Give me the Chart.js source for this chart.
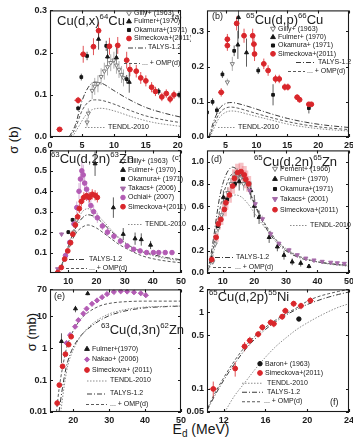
<!DOCTYPE html>
<html>
<head>
<meta charset="utf-8">
<script src="https://cdn.jsdelivr.net/npm/chart.js@4.4.1/dist/chart.umd.min.js"></script>
<style>
  body { margin: 0; background: #fff; }
  #fig { position: relative; width: 353px; height: 441px; overflow: hidden;
         font-family: "Liberation Sans", Arial, sans-serif; color: #161616; }
  #fig canvas { position: absolute; }
  .ax { position: absolute; white-space: nowrap; font-size: 13px; }
  .rot { transform: translate(-50%, -50%) rotate(-90deg); }
</style>
</head>
<body>
<div id="fig">
  <div class="ax rot" style="left:13px;top:140px">σ (b)</div>
  <div class="ax rot" style="left:31px;top:332px">σ (mb)</div>
  <div class="ax" style="left:201px;top:430px;transform:translate(-50%,-50%);font-size:14px">E<sub style="font-size:10px">d</sub> (MeV)</div>
</div>
<script>
// rows are [E (MeV), sigma, d_sigma, d_E]

// (a) Cu(d,x)64Cu, sigma in b
const aGilly = [[5.8,0.035,0.01],[6.0,0.056,0.012],[6.6,0.11,0.02],[7.0,0.12,0.02],[7.5,0.126,0.02],[8.0,0.143,0.02],[8.5,0.156,0.02],[9.0,0.166,0.02],[9.5,0.176,0.02],[10.0,0.182,0.02],[10.4,0.17,0.02],[10.8,0.16,0.02],[11.2,0.148,0.02],[11.5,0.14,0.02]];
const aFulmer = [[7.6,0.232,0.025],[9.0,0.19,0.025],[10.4,0.188,0.025],[12.4,0.13,0.025]];
const aOkamura = [[4.4,0.068,0.006],[4.9,0.142,0.008],[5.8,0.192,0.01],[8.8,0.216,0.012],[12.0,0.137,0.01],[17.0,0.108,0.008],[20.2,0.1,0.008]];
const aSimeckova = [[1.5,0.018,0.003,0.5],[4.4,0.087,0.008,0.6],[5.2,0.196,0.02,0.5],[6.8,0.214,0.02,0.4],[7.6,0.252,0.02,0.4],[9.3,0.215,0.02,0.4],[10.6,0.217,0.02,0.4],[12.0,0.182,0.02,0.4],[12.5,0.16,0.016,0.4],[13.5,0.156,0.015,0.3],[14.2,0.14,0.014,0.3],[15.0,0.133,0.013,0.3],[15.9,0.118,0.012,0.3],[16.5,0.108,0.011,0.3],[17.5,0.095,0.01,0.3],[18.2,0.103,0.01,0.3],[18.8,0.09,0.01,0.3],[19.4,0.1,0.01,0.3]];
const aTalys = [[3,0],[4,0.03],[5,0.085],[6,0.118],[7,0.13],[8,0.128],[10,0.11],[12,0.092],[15,0.07],[18,0.056],[20.5,0.047]];
const aOmp = [[3.2,0],[4,0.022],[5,0.062],[6,0.083],[7,0.088],[8,0.087],[10,0.078],[12,0.066],[15,0.05],[18,0.04],[20.5,0.034]];
const aTendl = [[3.5,0],[4.5,0.025],[5.5,0.05],[6.5,0.064],[8,0.068],[10,0.062],[13,0.047],[16,0.035],[20.5,0.025]];
const aXTicks = [0, 5, 10, 15, 20];
const aYTicks = [0, 0.1, 0.2, 0.3];

// (b) 65Cu(d,p)66Cu
const bGilly = [[5.3,0.156,0.01],[6.1,0.208,0.02]];
const bFulmer = [[7.0,0.262,0.04],[7.1,0.34,0.06],[8.4,0.24,0.04]];
const bOkamura = [[2.0,0.07,0.01],[2.9,0.1,0.01],[3.6,0.076,0.01],[4.5,0.178,0.01],[6.4,0.245,0.015],[10.3,0.189,0.01],[12.7,0.12,0.03],[18.5,0.082,0.015]];
const bSimeckova = [[4.3,0.127,0.012,0.5],[5.3,0.278,0.015,0.4],[5.3,0.26,0.015,0.4],[6.8,0.323,0.02,0.4],[8.0,0.288,0.02,0.4],[9.4,0.288,0.02,0.4],[9.6,0.264,0.02,0.4],[9.7,0.236,0.02,0.4],[11.2,0.208,0.015,0.4],[11.9,0.189,0.015,0.4],[13.1,0.165,0.012,0.4],[13.7,0.165,0.012,0.4],[14.6,0.142,0.01,0.4],[15.1,0.142,0.01,0.4],[16.6,0.113,0.008,0.4],[17.0,0.106,0.008,0.4],[18.5,0.093,0.006,0.4],[18.9,0.093,0.006,0.4]];
const bTalys = [[2.3,0],[3,0.04],[4,0.08],[5,0.095],[6,0.098],[7,0.095],[9,0.085],[12,0.068],[15,0.053],[18,0.042],[21,0.034],[25,0.027]];
const bOmp = [[2.4,0],[3,0.03],[4,0.067],[5,0.082],[6,0.085],[7,0.082],[9,0.072],[12,0.057],[15,0.044],[18,0.034],[21,0.027],[25,0.021]];
const bTendl = [[2.5,0],[3,0.02],[4,0.055],[5,0.07],[6,0.074],[7,0.072],[9,0.063],[12,0.05],[15,0.037],[18,0.028],[21,0.022],[25,0.017]];
const bXTicks = [5, 10, 15, 20, 25];
const bYTicks = [0, 0.1, 0.2, 0.3];

// (c) 63Cu(d,2n)63Zn
const cGilly = [[10.5,0.14,0.01],[12.0,0.2,0.015],[13.0,0.26,0.02]];
const cFulmer = [[19.5,0.535,0.06],[26.0,0.32,0.05],[29.5,0.19,0.03],[33.7,0.168,0.03],[35.9,0.164,0.03],[39.2,0.137,0.02]];
const cOkamura = [[10.0,0.2,0.01],[11.5,0.26,0.01]];
const cTakacs = [[6.2,0.02,0.005],[7.6,0.19,0.01]];
const cOchiai = [[9.0,0.085,0.01],[10.5,0.15,0.015],[12.0,0.24,0.02],[13.0,0.32,0.03],[13.8,0.4,0.04],[14.3,0.46,0.05],[14.8,0.5,0.05],[15.3,0.48,0.05],[15.8,0.44,0.04],[16.5,0.41,0.04],[17.2,0.37,0.03],[18.0,0.33,0.03],[19.0,0.3,0.03],[20.3,0.27,0.025],[22.1,0.23,0.02],[23.9,0.2,0.02],[26.2,0.18,0.018],[28.5,0.156,0.016],[30.9,0.132,0.014],[33.2,0.116,0.012],[35.5,0.108,0.01],[37.8,0.1,0.01],[40.2,0.1,0.01],[42.1,0.1,0.01],[44.4,0.1,0.01],[46.8,0.1,0.01]];
const cSimeckova = [[6.3,0.003,0.002,0.4],[7.5,0.027,0.004,0.4],[8.7,0.068,0.006,0.4],[9.8,0.108,0.01,0.4],[10.8,0.148,0.012,0.4],[11.6,0.19,0.015,0.4],[12.5,0.235,0.018,0.4],[13.3,0.275,0.02,0.4],[13.9,0.315,0.022,0.4],[14.6,0.35,0.025,0.4],[15.5,0.37,0.025,0.4],[16.5,0.378,0.025,0.4],[17.5,0.37,0.025,0.4],[18.5,0.385,0.025,0.4],[19.5,0.38,0.025,0.4],[20.3,0.37,0.025,0.4]];
const cTendl = [[5,0],[7,0.02],[9,0.09],[11,0.17],[13,0.25],[15,0.3],[17,0.315],[19,0.3],[22,0.26],[26,0.2],[30,0.15],[35,0.11],[40,0.085],[45,0.07],[50,0.06]];
const cTalys = [[5,0],[7,0.02],[9,0.09],[11,0.17],[13,0.23],[15,0.27],[17,0.285],[20,0.27],[24,0.22],[28,0.17],[32,0.13],[36,0.105],[40,0.09],[45,0.075],[50,0.065]];
const cOmp = [[5,0],[7,0.02],[9,0.08],[11,0.15],[13,0.2],[15,0.225],[17,0.235],[20,0.22],[24,0.18],[28,0.14],[32,0.11],[36,0.085],[40,0.07],[45,0.058],[50,0.05]];
const cXTicks = [10, 20, 30, 40, 50];
const cYTicks = [0.1, 0.2, 0.3, 0.4, 0.5, 0.6];

// (d) 65Cu(d,2n)65Zn
const dPement = [[6.8,0.1,0.02],[7.6,0.26,0.03],[8.5,0.4,0.03],[9.6,0.52,0.04],[10.6,0.63,0.04],[11.6,0.72,0.05],[12.6,0.8,0.05],[13.6,0.86,0.06],[14.6,0.88,0.06],[15.6,0.85,0.06],[16.6,0.8,0.06]];
const dFulmer = [[6.5,0.13,0.04],[10.2,0.68,0.06],[15.2,0.82,0.08],[18.9,0.74,0.08],[20.0,0.6,0.1],[21.5,0.5,0.06],[24.7,0.32,0.05],[27.3,0.235,0.04],[29.4,0.16,0.04],[32.0,0.1,0.03],[34.7,0.088,0.03],[37.3,0.06,0.02]];
const dOkamura = [[8.4,0.42,0.02],[11.4,0.66,0.03],[13.9,0.8,0.03]];
const dTakacs = [[18.5,0.74,0.04],[20.3,0.62,0.04],[22.6,0.485,0.03],[25.2,0.35,0.03],[27.8,0.265,0.02],[31.0,0.206,0.02],[33.6,0.162,0.015],[36.3,0.132,0.012],[38.9,0.115,0.01],[41.5,0.103,0.01],[44.2,0.095,0.01],[46.3,0.09,0.01],[48.5,0.085,0.01]];
const dSimeckova = [[6.5,0.12,0.03,0.4],[7.9,0.32,0.04,0.4],[8.6,0.44,0.05,0.4],[9.4,0.48,0.05,0.4],[10.5,0.57,0.06,0.4],[11.0,0.63,0.06,0.4],[12.1,0.7,0.07,0.4],[13.1,0.78,0.07,0.4],[13.7,0.85,0.08,0.4],[14.7,0.9,0.08,0.4],[15.8,0.91,0.08,0.4],[16.8,0.88,0.08,0.4],[17.3,0.84,0.08,0.4],[18.2,0.8,0.07,0.4]];
const dTalys = [[5,0],[6,0.12],[7,0.3],[8,0.5],[9,0.68],[10,0.8],[11,0.88],[12,0.93],[13,0.95],[14,0.94],[16,0.88],[18,0.76],[20,0.62],[23,0.44],[26,0.31],[30,0.2],[35,0.13],[40,0.1],[45,0.08],[50,0.07]];
const dOmp = [[5,0],[6,0.08],[7,0.22],[8,0.4],[9,0.56],[10,0.69],[11,0.78],[12,0.85],[13,0.89],[14,0.9],[16,0.86],[18,0.76],[20,0.63],[23,0.46],[26,0.33],[30,0.21],[35,0.14],[40,0.1],[45,0.08],[50,0.065]];
const dTendl = [[5,0],[6,0.06],[7,0.17],[8,0.3],[9,0.43],[10,0.53],[11,0.61],[12,0.66],[13,0.69],[14,0.7],[16,0.68],[18,0.62],[20,0.54],[23,0.42],[26,0.32],[30,0.22],[35,0.14],[40,0.1],[45,0.075],[50,0.06]];
const dXTicks = [10, 20, 30, 40, 50];
const dYTicks = [0, 0.2, 0.4, 0.6, 0.8, 1.0];

// (e) 63Cu(d,3n)62Zn, sigma in mb
const eFulmer = [[16.7,1.64,1.3],[20.6,17.4,4],[24.0,52,6]];
const eNakao = [[18.1,1.46],[19.1,2.6],[20.5,4.75],[21.4,7.6],[22.8,12.2],[23.7,17.4],[25.2,24.7],[26.6,31.5],[28.0,40],[29.4,50],[31.3,58],[33.2,61],[35.0,60],[36.9,57],[38.8,53],[40.2,46]];
const eSimeckova = [[15.5,0.019,0.004,0.3],[16.1,0.07,0.012,0.3],[17.0,0.27,0.04,0.3],[17.8,0.65,0.08,0.3],[18.7,1.3,0.15,0.3],[19.4,2.3,0.25,0.3]];
const eTendl = [[16.5,0.01],[17.5,0.07],[18.5,0.3],[20,0.9],[22,2.3],[24,4.3],[27,8],[30,12],[33,15],[36,17.5],[40,19.5],[45,20.5],[50,21]];
const eTalys = [[16,0.01],[17,0.06],[18,0.25],[19,0.6],[20,1.1],[22,2.4],[24,4],[27,7],[30,10.5],[33,13.5],[36,16],[40,18.5],[45,20],[50,21]];
const eOmp = [[15.3,0.01],[16,0.05],[17,0.25],[18,0.9],[19,2],[20,3.6],[22,8],[24,13],[26,18],[28,22.5],[31,26.5],[35,29],[40,30],[45,30],[50,30]];
const eXTicks = [20, 30, 40, 50];
const eYTicks = [0.01, 0.1, 1, 10, 70];

// (f) 65Cu(d,2p)55Ni, sigma in mb
const fBaron = [[19.2,0.82]];
const fSimeckova = [[11.0,0.1,0.025,0.4],[13.1,0.185,0.04,0.25],[14.0,0.36,0.05,0.3],[14.5,0.43,0.05,0.3],[15.3,0.52,0.05,0.3],[15.7,0.64,0.06,0.3],[16.5,0.74,0.07,0.3],[16.8,0.71,0.07,0.3],[17.6,0.88,0.08,0.3],[17.9,1.05,0.1,0.3],[18.7,1.3,0.12,0.3],[19.4,1.22,0.12,0.3],[20.3,1.43,0.14,0.3]];
const fTendl = [[12.1,0.05],[13,0.08],[14,0.12],[15,0.18],[16,0.26],[17,0.36],[18,0.47],[19,0.6],[20,0.73],[21,0.87],[22,1.02],[23,1.17],[24,1.3]];
const fTalys = [[10.4,0.052],[11,0.075],[12,0.13],[13,0.21],[14,0.32],[15,0.45],[16,0.6],[17,0.76],[18,0.93],[19,1.1],[20,1.27],[21,1.43],[22,1.58],[23,1.72],[24,1.85]];
const fOmp = [[10.3,0.05],[11,0.08],[12,0.14],[13,0.23],[14,0.35],[15,0.49],[16,0.64],[17,0.8],[18,0.97],[19,1.15],[20,1.4],[21,1.6],[22,1.75],[23,1.88],[24,2.0]];
const fXTicks = [12, 16, 20, 24];
const fYTicks = [0.05, 0.1, 0.5, 1, 2];

const FONT = '"Liberation Sans", Arial, sans-serif';
const INK = '#161616', RED = '#d9262b', PURPLE = '#b35cb4', GREY = '#7c7c7c';
Chart.defaults.font.family = FONT;

// marker looks shared by the panels
const sGilly = {pointStyle: 'triangle', pointRotation: 180, pointRadius: 2.4, pointBackgroundColor: '#fff', pointBorderColor: GREY, errColor: '#9a9a9a'};
const sFulmer = {pointStyle: 'triangle', pointRadius: 2.3, pointBackgroundColor: INK, pointBorderColor: INK, errColor: '#333'};
const sOkamura = {pointStyle: 'rect', pointRadius: 1.9, pointBackgroundColor: INK, pointBorderColor: INK, errColor: '#333'};
const sSimeckova = {pointStyle: 'circle', pointRadius: 2.4, pointBackgroundColor: RED, pointBorderColor: RED, errColor: RED};
const sOchiai = {pointStyle: 'circle', pointRadius: 2.3, pointBackgroundColor: PURPLE, pointBorderColor: PURPLE, errColor: '#c99bcb'};
const sTakacs = {pointStyle: 'triangle', pointRotation: 180, pointRadius: 2.4, pointBackgroundColor: '#a56aa8', pointBorderColor: '#a56aa8', errColor: '#c5a0c8'};
const sNakao = {pointStyle: 'rectRot', pointRadius: 2.6, pointBackgroundColor: PURPLE, pointBorderColor: PURPLE, errColor: '#c99bcb'};
const sBaron = {pointStyle: 'circle', pointRadius: 2.2, pointBackgroundColor: INK, pointBorderColor: INK};

const TENDL = {dash: [1.5, 1.5], color: '#8d8d8d'};
const TALYS = {dash: [5, 2, 1, 2], color: '#3a3a3a'};
const OMP = {dash: [3, 2], color: '#5a5a5a'};

function marks(label, rows, style, key) {
  return Object.assign({
    label, key,
    data: rows.map(r => ({x: r[0], y: r[1], ey: r[2] || 0, ex: r[3] || 0})),
    pointBorderWidth: 1, errWidth: 0.8
  }, style);
}

function curve(label, rows, look, key) {
  return {
    label, key,
    data: rows.map(r => ({x: r[0], y: r[1]})),
    showLine: true, pointRadius: 0, borderWidth: 1,
    borderColor: look.color, borderDash: look.dash,
    cubicInterpolationMode: 'monotone'
  };
}

function drawMark(ctx, ds, x, y) {
  const r = ds.pointRadius;
  ctx.save();
  ctx.translate(x, y);
  ctx.rotate((ds.pointRotation || 0) * Math.PI / 180);
  ctx.fillStyle = ds.pointBackgroundColor;
  ctx.strokeStyle = ds.pointBorderColor;
  ctx.lineWidth = 1;
  ctx.beginPath();
  if (ds.pointStyle === 'triangle') {
    ctx.moveTo(0, -r * 1.2); ctx.lineTo(r * 1.05, r * 0.6); ctx.lineTo(-r * 1.05, r * 0.6); ctx.closePath();
  } else if (ds.pointStyle === 'rect') {
    ctx.rect(-r * 0.8, -r * 0.8, r * 1.6, r * 1.6);
  } else if (ds.pointStyle === 'rectRot') {
    ctx.moveTo(0, -r); ctx.lineTo(r, 0); ctx.lineTo(0, r); ctx.lineTo(-r, 0); ctx.closePath();
  } else {
    ctx.arc(0, 0, r, 0, Math.PI * 2);
  }
  ctx.fill(); ctx.stroke();
  ctx.restore();
}

// error bars, frame, inward ticks, keys and reaction labels
const decor = {
  id: 'decor',
  beforeDatasetsDraw(chart) {
    const {ctx, chartArea: a, scales: {x, y}} = chart;
    ctx.save();
    ctx.beginPath(); ctx.rect(a.left, a.top, a.width, a.height); ctx.clip();
    chart.data.datasets.forEach(ds => {
      if (!ds.errColor) return;
      ctx.strokeStyle = ds.errColor; ctx.lineWidth = ds.errWidth;
      ds.data.forEach(p => {
        const px = x.getPixelForValue(p.x), py = y.getPixelForValue(p.y);
        ctx.beginPath();
        if (p.ey) {
          const lo = Math.max(p.y - p.ey, y.min * 0.5);
          ctx.moveTo(px, y.getPixelForValue(lo)); ctx.lineTo(px, y.getPixelForValue(p.y + p.ey));
        }
        if (p.ex) {
          ctx.moveTo(x.getPixelForValue(p.x - p.ex), py); ctx.lineTo(x.getPixelForValue(p.x + p.ex), py);
        }
        ctx.stroke();
      });
    });
    ctx.restore();
  },
  afterDraw(chart, args, o) {
    const {ctx, chartArea: a, scales: {x, y}} = chart;
    const X = v => v - o.ox, Y = v => v - o.oy;
    ctx.save();
    ctx.strokeStyle = '#1a1a1a'; ctx.lineWidth = 1.1;
    ctx.strokeRect(a.left + 0.5, a.top + 0.5, a.width - 1, a.height - 1);
    ctx.beginPath();
    x.ticks.forEach(t => {
      const px = Math.round(x.getPixelForValue(t.value)) + 0.5;
      ctx.moveTo(px, a.bottom); ctx.lineTo(px, a.bottom - 3);
      ctx.moveTo(px, a.top); ctx.lineTo(px, a.top + 3);
    });
    y.ticks.forEach(t => {
      const py = Math.round(y.getPixelForValue(t.value)) + 0.5;
      ctx.moveTo(a.left, py); ctx.lineTo(a.left + 3, py);
      ctx.moveTo(a.right, py); ctx.lineTo(a.right - 3, py);
    });
    ctx.stroke();

    ctx.fillStyle = '#202020';
    ctx.textBaseline = 'middle';
    ctx.font = '7px ' + FONT;
    chart.data.datasets.forEach(ds => {
      const k = ds.key;
      if (!k) return;
      if (k.seg) {
        ctx.save();
        ctx.strokeStyle = ds.borderColor; ctx.setLineDash(ds.borderDash);
        ctx.beginPath(); ctx.moveTo(X(k.seg[0]), Y(k.y) + 0.5); ctx.lineTo(X(k.seg[1]), Y(k.y) + 0.5); ctx.stroke();
        ctx.restore();
        ctx.fillText(ds.label, X(k.tx), Y(k.y));
      } else {
        drawMark(ctx, ds, X(k.x), Y(k.y));
        ctx.fillText(ds.label, X(k.x) + 5, Y(k.y));
      }
    });

    ctx.textBaseline = 'alphabetic';
    (o.texts || []).forEach(t => {
      let cx = X(t.x);
      t.parts.forEach(([s, sup]) => {
        const fs = sup ? t.size * 0.6 : t.size;
        ctx.font = fs + 'px ' + FONT;
        ctx.fillText(s, cx, Y(t.y) - (sup ? t.size * 0.45 : 0));
        cx += ctx.measureText(s).width;
      });
    });
    ctx.restore();
  }
};

function axis(spec) {
  return {
    type: spec.log ? 'logarithmic' : 'linear',
    min: spec.min, max: spec.max,
    grid: {display: false, drawTicks: false}, border: {display: false},
    afterBuildTicks: s => { s.ticks = spec.ticks.map(v => ({value: v})); },
    afterFit: s => { if (s.isHorizontal()) s.height = 14; else s.width = 30; },
    ticks: {
      autoSkip: false, maxRotation: 0, padding: 3, color: '#1c1c1c',
      font: {size: 9, weight: 'bold'},
      callback: spec.fmt
    }
  };
}

const fix1 = v => v.toFixed(1);
const plain = v => String(v);

function panel(box, xs, ys, sets, texts) {
  const cv = document.createElement('canvas');
  const left = box[0] - 30, top = box[1] - 6;
  cv.width = 30 + box[2] - box[0] + 10;
  cv.height = 6 + box[3] - box[1] + 14;
  cv.style.left = left + 'px';
  cv.style.top = top + 'px';
  document.getElementById('fig').appendChild(cv);
  return new Chart(cv, {
    type: 'scatter',
    data: {datasets: sets},
    options: {
      responsive: false, animation: false, devicePixelRatio: 1,
      layout: {padding: {top: 6, right: 10, left: 0, bottom: 0}},
      plugins: {legend: {display: false}, tooltip: {enabled: false},
                decor: {ox: left, oy: top, texts}},
      scales: {x: axis(xs), y: axis(ys)}
    },
    plugins: [decor]
  });
}

const sup = s => [s, true], txt = s => [s, false];

panel([50, 8, 181, 137],
  {min: 0, max: 20.5, ticks: aXTicks, fmt: plain},
  {min: 0, max: 0.3, ticks: aYTicks, fmt: fix1},
  [
    marks('Simeckova+(2011)', aSimeckova, sSimeckova, {x: 129, y: 38.5}),
    marks('Okamura+(1971)', aOkamura, sOkamura, {x: 129, y: 30}),
    marks('Fulmer+(1970)', aFulmer, sFulmer, {x: 129, y: 21.5}),
    marks('Gilly+ (1963)', aGilly, sGilly, {x: 129, y: 13}),
    curve('TALYS-1.2', aTalys, TALYS, {seg: [128, 146], y: 47.5, tx: 148}),
    curve('... + OMP(d)', aOmp, OMP, {seg: [124, 140], y: 63, tx: 142}),
    curve('TENDL-2010', aTendl, TENDL, {seg: [85, 106], y: 127, tx: 108})
  ],
  [{x: 57, y: 25, size: 13, parts: [txt('Cu(d,x)'), sup('64'), txt('Cu')]},
   {x: 172, y: 19, size: 8, parts: [txt('(a)')]}]);

panel([207, 8, 349, 137],
  {min: 2, max: 25, ticks: bXTicks, fmt: plain},
  {min: 0, max: 0.36, ticks: bYTicks, fmt: fix1},
  [
    marks('Simeckova+(2011)', bSimeckova, sSimeckova, {x: 273, y: 53.8}),
    marks('Okamura+ (1971)', bOkamura, sOkamura, {x: 273, y: 45.5}),
    marks('Fulmer+ (1970)', bFulmer, sFulmer, {x: 273, y: 37.2}),
    marks('Gilly+ (1963)', bGilly, sGilly, {x: 273, y: 28.7}),
    curve('TALYS-1.2', bTalys, TALYS, {seg: [296, 316], y: 62, tx: 318}),
    curve('... + OMP(d)', bOmp, OMP, {seg: [288, 305], y: 71, tx: 307}),
    curve('TENDL-2010', bTendl, TENDL, {seg: [218, 236], y: 127, tx: 238})
  ],
  [{x: 212, y: 19, size: 9, parts: [txt('(b)')]},
   {x: 246, y: 24, size: 13, parts: [sup('65'), txt('Cu(d,p)'), sup('66'), txt('Cu')]}]);

panel([50, 148, 181, 273],
  {min: 3.5, max: 50, ticks: cXTicks, fmt: plain},
  {min: 0, max: 0.6, ticks: cYTicks, fmt: fix1},
  [
    marks('Simeckova+(2011)', cSimeckova, sSimeckova, {x: 123, y: 206.7}),
    marks('Ochiai+ (2007)', cOchiai, sOchiai, {x: 123, y: 197.5}),
    marks('Takacs+ (2006)', cTakacs, sTakacs, {x: 123, y: 188.5}),
    marks('Okamura+ (1971)', cOkamura, sOkamura, {x: 123, y: 179}),
    marks('Fulmer+ (1970)', cFulmer, sFulmer, {x: 123, y: 170}),
    marks('Gilly+ (1963)', cGilly, sGilly, {x: 123, y: 161}),
    curve('TENDL-2010', cTendl, TENDL, {seg: [128, 143], y: 224, tx: 145}),
    curve('TALYS-1.2', cTalys, TALYS, {seg: [69, 86], y: 259, tx: 89}),
    curve('... + OMP(d)', cOmp, OMP, {seg: [66, 87], y: 268, tx: 89})
  ],
  [{x: 51, y: 163, size: 13, parts: [sup('63'), txt('Cu(d,2n)'), sup('63'), txt('Zn')]},
   {x: 172, y: 160, size: 8, parts: [txt('(c)')]}]);

panel([207, 148, 349, 273],
  {min: 5, max: 50, ticks: dXTicks, fmt: plain},
  {min: 0, max: 1.1, ticks: dYTicks, fmt: fix1},
  [
    marks('Simeckova+(2011)', dSimeckova, Object.assign({}, sSimeckova, {errColor: 'rgba(236,120,128,0.45)', errWidth: 5}), {x: 275, y: 209.7}),
    marks('Takacs+ (2001)', dTakacs, sTakacs, {x: 275, y: 199}),
    marks('Okamura+(1971)', dOkamura, sOkamura, {x: 275, y: 189}),
    marks('Fulmer+ (1970)', dFulmer, sFulmer, {x: 275, y: 179}),
    marks('Pement+ (1966)', dPement, sGilly, {x: 275, y: 168.7}),
    curve('TENDL-2010', dTendl, TENDL, {seg: [290, 308], y: 225, tx: 310}),
    curve('TALYS-1.2', dTalys, TALYS, {seg: [215, 234], y: 257, tx: 236}),
    curve('... + OMP(d)', dOmp, OMP, {seg: [213, 233], y: 267, tx: 235})
  ],
  [{x: 211, y: 162, size: 9, parts: [txt('(d)')]},
   {x: 254, y: 166, size: 13, parts: [sup('65'), txt('Cu(d,2n)'), sup('65'), txt('Zn')]}]);

panel([50, 287, 181, 412],
  {min: 13.5, max: 50, ticks: eXTicks, fmt: plain},
  {log: true, min: 0.01, max: 70, ticks: eYTicks, fmt: plain},
  [
    marks('Simeckova+ (2011)', eSimeckova, sSimeckova, {x: 87, y: 370}),
    marks('Nakao+ (2006)', eNakao, sNakao, {x: 87, y: 359.5}),
    marks('Fulmer+(1970)', eFulmer, sFulmer, {x: 87, y: 349}),
    curve('TENDL-2010', eTendl, TENDL, {seg: [87, 107], y: 380.5, tx: 110}),
    curve('TALYS-1.2', eTalys, TALYS, {seg: [87, 107], y: 393.5, tx: 110}),
    curve('... + OMP(d)', eOmp, OMP, {seg: [86, 107], y: 404, tx: 110})
  ],
  [{x: 54, y: 299, size: 9, parts: [txt('(e)')]},
   {x: 101, y: 334, size: 13, parts: [sup('63'), txt('Cu(d,3n)'), sup('62'), txt('Zn')]}]);

panel([207, 287, 349, 412],
  {min: 10.4, max: 24, ticks: fXTicks, fmt: plain},
  {log: true, min: 0.05, max: 2, ticks: fYTicks, fmt: plain},
  [
    marks('Simeckova+(2011)', fSimeckova, sSimeckova, {x: 260, y: 373}),
    marks('Baron+ (1963)', fBaron, sBaron, {x: 260, y: 363.7}),
    curve('TENDL-2010', fTendl, TENDL, {seg: [242, 263], y: 382.8, tx: 267}),
    curve('TALYS-1.2', fTalys, TALYS, {seg: [242, 263], y: 391.8, tx: 267}),
    curve('... + OMP(d)', fOmp, OMP, {seg: [242, 262], y: 401.3, tx: 264})
  ],
  [{x: 209, y: 301, size: 13, parts: [sup('65'), txt('Cu(d,2p)'), sup('55'), txt('Ni')]},
   {x: 330, y: 404.5, size: 9, parts: [txt('(f)')]}]);
</script>
</body>
</html>
